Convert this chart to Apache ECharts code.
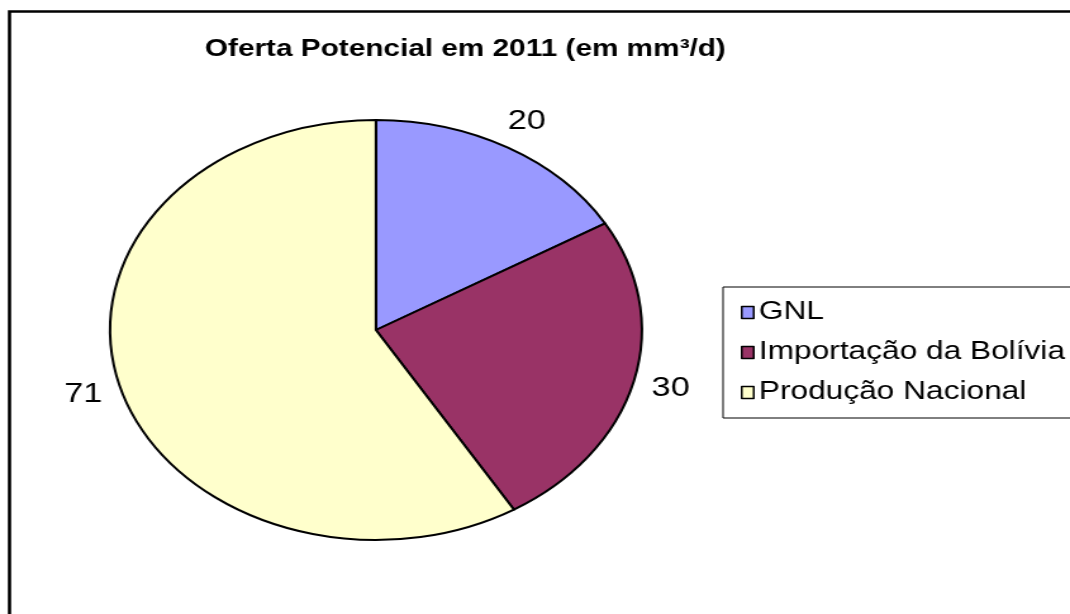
<!DOCTYPE html>
<html>
<head>
<meta charset="utf-8">
<script src="https://cdn.jsdelivr.net/npm/echarts@6/dist/echarts.min.js"></script>
<style>
html, body { margin: 0; padding: 0; background: #fff; overflow: hidden; }
/* the original picture is stretched sideways, so the whole chart is too */
#main { width: 845px; height: 614px; transform: scaleX(1.26627); transform-origin: 0 0; }
</style>
</head>
<body>
<div id="main"></div>
<script>
var categorias = ['GNL', 'Importação da Bolívia', 'Produção Nacional'];
var valores = [20, 30, 71];
var cores = ['#9999ff', '#993366', '#ffffcc'];
var titulo = 'Oferta Potencial em 2011 (em mm³/d)';

var fonte = '"Liberation Sans", Arial, sans-serif';
var dom = document.getElementById('main');
var myChart = echarts.init(dom);

var dados = [];
for (var i = 0; i < categorias.length; i++) {
	dados.push({ name: categorias[i], value: valores[i], itemStyle: { color: cores[i] } });
}

var option = {
	backgroundColor: '#fff',
	animation: false,
	title: {
		text: titulo,
		left: 362.5,
		top: 33,
		textAlign: 'center',
		textStyle: { fontFamily: fonte, fontSize: 23.5, fontWeight: 'bold', color: '#000' }
	},
	graphic: [{
		type: 'rect',
		shape: { x: 7.5, y: 11.5, width: 1200, height: 900 },
		style: { fill: 'none', stroke: '#000', lineWidth: 2.6 },
		silent: true
	}],
	legend: {
		orient: 'vertical',
		left: 571,
		top: 287,
		data: categorias,
		icon: 'rect',
		itemWidth: 9.5,
		itemHeight: 12,
		itemGap: 15,
		padding: [13, 20, 13, 14],
		borderColor: '#000',
		borderWidth: 1,
		itemStyle: { borderColor: '#000', borderWidth: 1.5 },
		textStyle: { fontFamily: fonte, fontSize: 25, lineHeight: 25, color: '#000', padding: [0, 0, 0, -1] },
		selectedMode: false
	},
	series: [{
		type: 'pie',
		center: [296.9, 330],
		radius: 210,
		startAngle: 90,
		clockwise: true,
		avoidLabelOverlap: false,
		data: dados,
		itemStyle: { borderColor: '#000', borderWidth: 2 },
		label: {
			show: true,
			position: 'outside',
			formatter: '{c}',
			distanceToLabelLine: 0,
			fontFamily: fonte,
			fontSize: 27,
			color: '#000'
		},
		labelLine: { show: false, length: 30, length2: 0 },
		labelLayout: function (p) {
			var w = p.labelRect.width;
			return { dx: p.align === 'left' ? -w / 2 : w / 2 };
		},
		emphasis: { disabled: true }
	}]
};
myChart.setOption(option);
</script>
</body>
</html>
